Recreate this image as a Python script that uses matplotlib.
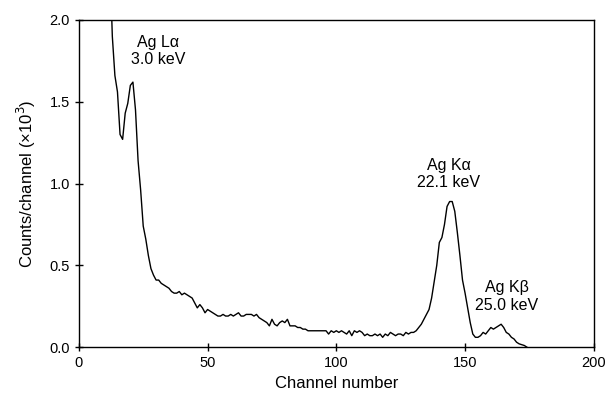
import numpy as np
import matplotlib.pyplot as plt

plt.rcParams['font.family'] = ['Liberation Sans', 'DejaVu Sans']

# spectrum: channel number vs counts per channel (x10^3)
channels = np.arange(12, 175)
counts = [
    2.40, 1.90, 1.66, 1.56, 1.30, 1.27, 1.43, 1.49, 1.60, 1.62,   # 12-21
    1.45, 1.14, 0.96, 0.74, 0.66, 0.56, 0.48, 0.44, 0.41, 0.41,   # 22-31
    0.39, 0.38, 0.37, 0.36, 0.34, 0.33, 0.33, 0.34, 0.32, 0.33,   # 32-41
    0.32, 0.31, 0.30, 0.27, 0.24, 0.26, 0.24, 0.21, 0.23, 0.22,   # 42-51
    0.21, 0.20, 0.19, 0.19, 0.20, 0.19, 0.19, 0.20, 0.19, 0.20,   # 52-61
    0.21, 0.19, 0.19, 0.20, 0.20, 0.20, 0.19, 0.20, 0.18, 0.17,   # 62-71
    0.16, 0.15, 0.13, 0.17, 0.14, 0.13, 0.15, 0.16, 0.15, 0.17,   # 72-81
    0.13, 0.13, 0.13, 0.12, 0.12, 0.11, 0.11, 0.10, 0.10, 0.10,   # 82-91
    0.10, 0.10, 0.10, 0.10, 0.10, 0.08, 0.10, 0.09, 0.10, 0.09,   # 92-101
    0.10, 0.09, 0.08, 0.10, 0.07, 0.10, 0.09, 0.10, 0.09, 0.07,   # 102-111
    0.08, 0.07, 0.07, 0.08, 0.07, 0.08, 0.06, 0.08, 0.07, 0.09,   # 112-121
    0.08, 0.07, 0.08, 0.08, 0.07, 0.09, 0.08, 0.09, 0.09, 0.10,   # 122-131
    0.12, 0.14, 0.17, 0.20, 0.23, 0.30, 0.40, 0.50, 0.64, 0.67,   # 132-141
    0.75, 0.86, 0.89, 0.89, 0.83, 0.70, 0.56, 0.41, 0.33, 0.24,   # 142-151
    0.15, 0.08, 0.06, 0.06, 0.07, 0.09, 0.08, 0.10, 0.12, 0.11,   # 152-161
    0.12, 0.13, 0.14, 0.12, 0.09, 0.08, 0.06, 0.05, 0.03, 0.02,   # 162-171
    0.015, 0.01, 0.0,                                             # 172-174
]

peak_labels = ['Ag L\u03b1\n3.0 keV', 'Ag K\u03b1\n22.1 keV', 'Ag K\u03b2\n25.0 keV']
peak_label_x = [30.8, 143.7, 166.2]
peak_label_y = [1.81, 1.06, 0.31]

fig, ax = plt.subplots(figsize=(6.16, 3.99), dpi=100)
fig.subplots_adjust(left=0.128, right=0.964, bottom=0.130, top=0.950)

ax.plot(channels, counts, color='black', linewidth=1.0)

for txt, x, y in zip(peak_labels, peak_label_x, peak_label_y):
    ax.text(x, y, txt, ha='center', va='center', fontsize=11.5, linespacing=1.2)

ax.set_xlim(0, 200)
ax.set_ylim(0, 2.0)
ax.set_xticks([0, 50, 100, 150, 200])
ax.set_yticks([0.0, 0.5, 1.0, 1.5, 2.0])
ax.set_yticklabels(['0.0', '0.5', '1.0', '1.5', '2.0'])
ax.tick_params(direction='inout', length=6, width=1, labelsize=10.5)
ax.set_xlabel('Channel number', fontsize=12)
ax.set_ylabel('Counts/channel (\u00d710$^3$)', fontsize=12, labelpad=8)
for s in ax.spines.values():
    s.set_linewidth(1)

plt.savefig('out.png', dpi=100)
